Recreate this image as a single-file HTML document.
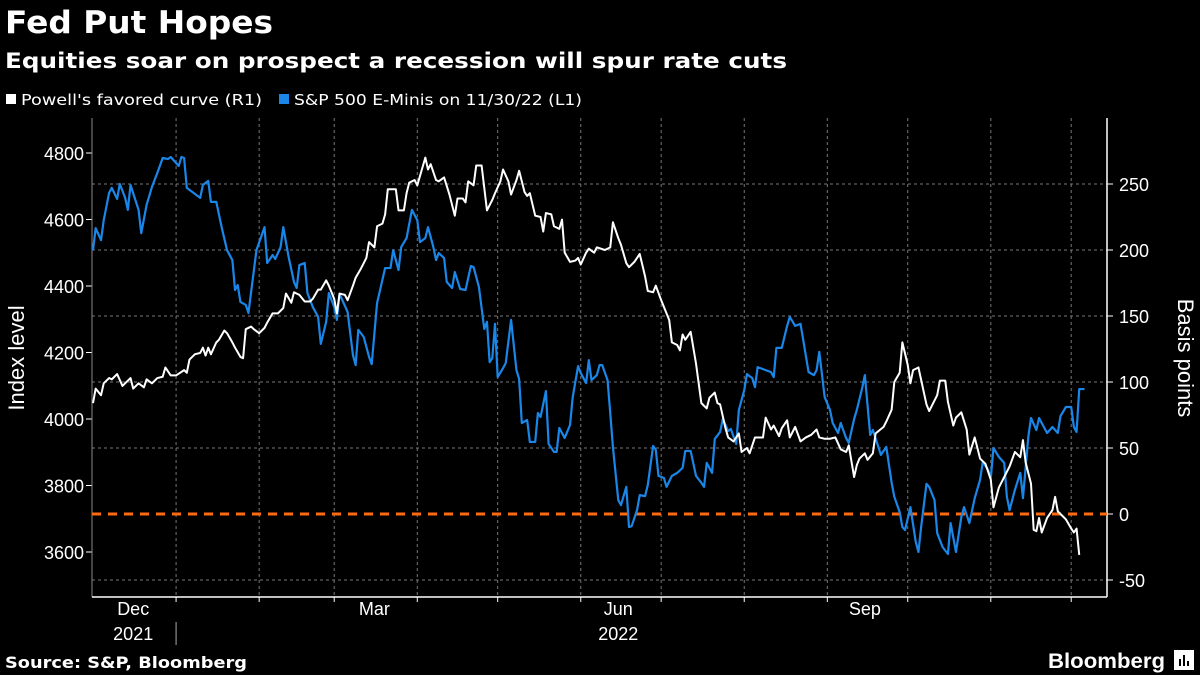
<!DOCTYPE html>
<html><head><meta charset="utf-8">
<style>
body{margin:0;background:#000;width:1200px;height:675px;overflow:hidden;font-family:"Liberation Sans",sans-serif;color:#fff}
svg{position:absolute;left:0;top:0}
</style></head>
<body>
<svg width="1200" height="675" viewBox="0 0 1200 675">
<g id="static">
<text x="5" y="33" font-size="31" font-weight="bold" fill="#fff" font-family="DejaVu Sans, sans-serif" textLength="268" lengthAdjust="spacingAndGlyphs">Fed Put Hopes</text>
<text x="5" y="68" font-size="21" font-weight="bold" fill="#fff" font-family="DejaVu Sans, sans-serif" textLength="782" lengthAdjust="spacingAndGlyphs">Equities soar on prospect a recession will spur rate cuts</text>
<g><rect x="6" y="94" width="10" height="10" fill="#fff"/><text x="21" y="105" font-size="15" fill="#fff" font-family="DejaVu Sans, sans-serif" textLength="241" lengthAdjust="spacingAndGlyphs">Powell's favored curve (R1)</text></g>
<g><rect x="279" y="94" width="10" height="10" fill="#1a86e8"/><text x="294" y="105" font-size="15" fill="#fff" font-family="DejaVu Sans, sans-serif" textLength="288" lengthAdjust="spacingAndGlyphs">S&amp;P 500 E-Minis on 11/30/22 (L1)</text></g>
<text transform="translate(24,358) rotate(-90)" font-size="22" text-anchor="middle" fill="#fff">Index level</text>
<text transform="translate(1178,358) rotate(90)" font-size="22" text-anchor="middle" fill="#fff">Basis points</text>
<text x="5" y="668" font-size="16" font-weight="bold" fill="#fff" font-family="DejaVu Sans, sans-serif" textLength="242" lengthAdjust="spacingAndGlyphs">Source: S&amp;P, Bloomberg</text>
<text x="1048" y="668" font-size="21" font-weight="bold" fill="#fff" textLength="117" lengthAdjust="spacingAndGlyphs">Bloomberg</text>
<g><rect x="1174" y="650" width="20" height="20" fill="#fff"/><rect x="1179" y="659" width="2" height="7" fill="#000"/><rect x="1183" y="655" width="2" height="11" fill="#000"/><rect x="1187" y="661" width="2" height="5" fill="#000"/></g>
</g>
<g id="grid"></g>
<g id="axes"></g>
<g id="series"></g>
</svg>
<script>
const leftTicks=[3600,3800,4000,4200,4400,4600,4800];
const rightTicks=[-50,0,50,100,150,200,250];
const monthDays=[31,62,90,121,151,182,212,243,274,304,335,365];
const monthLabels=["Dec","Mar","Jun","Sep"];
const monthLabelDays=[15,105,196,288];
const yearLabels=["2021","2022"];
const yearLabelDays=[15,196];
const spDays=[0,1,3,4,6,7,9,10,12,13,14,17,18,20,22,24,26,28,29,32,33,34,35,37,40,41,43,44,46,48,50,52,53,54,55,57,58,61,64,65,67,68,70,71,73,75,76,77,79,80,82,84,85,87,88,90,91,92,93,95,97,98,99,101,103,104,106,109,111,112,114,115,117,119,121,122,124,125,127,128,129,131,132,134,135,137,139,141,142,144,146,147,148,149,150,151,153,154,156,158,159,160,162,163,165,166,167,169,170,172,173,174,176,178,179,181,182,184,185,186,188,189,190,192,193,194,196,197,199,200,201,203,204,206,207,209,210,211,213,214,216,218,220,221,223,225,227,228,229,231,232,234,235,237,238,240,241,243,244,246,247,248,251,253,254,255,257,259,260,262,264,265,267,269,270,271,273,275,276,278,279,281,282,284,285,287,288,290,291,294,296,298,299,301,302,303,305,307,308,309,311,312,314,315,317,319,320,322,324,325,327,329,331,332,334,335,336,338,340,341,342,344,346,347,349,350,352,353,355,356,358,360,361,363,365,366,367,368,370];
const spValues=[4508,4574,4538,4598,4680,4695,4662,4707,4665,4629,4704,4629,4559,4644,4698,4740,4785,4782,4788,4761,4788,4785,4695,4683,4665,4704,4716,4653,4653,4577,4508,4478,4388,4403,4352,4343,4319,4508,4577,4469,4493,4481,4517,4577,4487,4412,4394,4463,4469,4379,4337,4307,4226,4292,4379,4337,4298,4376,4358,4322,4192,4162,4268,4247,4187,4165,4349,4454,4454,4508,4448,4517,4544,4629,4598,4532,4544,4577,4517,4478,4499,4484,4412,4394,4442,4391,4388,4460,4457,4397,4271,4292,4171,4183,4286,4126,4153,4168,4298,4147,4120,3988,3997,3931,3931,4018,4006,4084,3925,3901,3901,3973,3943,3982,4066,4159,4138,4108,4177,4117,4132,4162,4162,4117,4018,3916,3756,3741,3796,3675,3678,3726,3771,3768,3801,3919,3907,3829,3823,3796,3829,3838,3853,3904,3904,3829,3808,3796,3868,3838,3940,3961,4000,3964,3970,3925,4027,4087,4135,4123,4096,4156,4147,4141,4126,4214,4214,4280,4307,4280,4286,4238,4141,4132,4147,4202,4066,4027,3988,3958,3988,3943,3928,4000,4027,4093,4132,3952,3967,3892,3916,3808,3766,3720,3675,3666,3735,3630,3600,3675,3805,3796,3756,3657,3615,3594,3687,3600,3705,3735,3687,3762,3817,3871,3847,3823,3913,3886,3868,3766,3726,3787,3838,3762,3946,4003,3967,4003,3973,3958,3976,3958,4009,4036,4036,3976,3961,4090,4090];
const curveDays=[0,1,3,4,6,7,9,11,14,15,17,19,20,22,24,26,27,29,31,34,35,36,38,40,41,42,43,44,46,47,49,50,52,53,55,56,57,59,60,62,64,65,67,69,71,72,74,75,77,79,81,82,84,85,87,88,90,91,92,94,95,97,98,100,102,103,105,106,108,109,110,113,114,116,117,118,120,121,124,125,126,128,129,131,133,135,136,138,139,140,142,143,145,147,149,150,152,153,155,156,158,159,161,162,163,165,167,168,169,171,172,174,175,176,178,180,181,182,184,185,187,188,191,193,194,196,197,199,200,202,204,206,207,209,210,212,214,215,216,218,219,220,221,223,225,227,229,230,232,233,234,236,237,239,241,242,244,245,247,249,250,251,253,254,256,257,259,260,262,264,266,268,270,271,273,275,277,279,281,282,284,285,286,288,289,291,292,295,296,298,299,301,302,304,305,306,308,311,312,315,316,318,319,321,322,324,326,327,329,331,333,335,336,338,340,342,344,346,347,348,350,351,352,353,354,356,358,359,360,362,363,365,366,367,368];
const curveValues=[84,95,90,99,103,102,106,97,103,95,99,96,102,99,103,104,111,105,105,109,107,117,121,122,126,120,126,121,130,132,139,137,130,126,119,118,140,142,140,137,141,145,152,152,156,167,160,168,166,161,161,163,170,170,177,173,163,152,167,166,162,173,179,186,194,206,202,218,220,227,246,246,230,230,243,251,253,249,270,261,265,253,252,255,242,226,239,239,236,252,249,264,264,230,238,243,252,261,252,242,253,260,244,241,243,226,225,214,228,227,218,216,223,198,191,192,194,189,198,201,198,202,200,202,221,209,204,190,187,191,197,180,169,168,173,162,152,147,130,128,124,136,132,138,114,84,80,88,92,84,83,65,58,55,61,47,50,46,58,58,58,73,64,67,59,65,71,58,66,55,58,60,64,58,57,57,58,49,47,52,28,37,42,46,41,46,61,66,70,79,100,107,130,113,99,109,111,83,78,90,101,101,85,67,73,77,64,45,58,42,38,26,5,20,28,36,47,43,56,39,23,-12,-13,-3,-14,-3,3,13,2,-2,-4,-11,-14,-11,-31];

const X0=93,XPD=2.68,PL=92,PR=1107,PT=118,PB=597;
const xScale=d=>X0+d*XPD;
const yLeft=v=>153+(4800-v)*0.3325;
const yRight=v=>514-v*1.32;
const NS="http://www.w3.org/2000/svg";
function mk(tag,attrs,parent){const e=document.createElementNS(NS,tag);for(const k in attrs)e.setAttribute(k,attrs[k]);parent.appendChild(e);return e;}
const grid=document.getElementById('grid'),axes=document.getElementById('axes'),series=document.getElementById('series');

rightTicks.forEach(v=>{
  if(v!==0){const l=mk('line',{x1:PL,x2:PR,y1:yRight(v),y2:yRight(v),stroke:'#777','stroke-width':1,'stroke-dasharray':'3,3'},grid);
  
  }
  const t=mk('text',{x:1119,y:yRight(v)+7,'font-size':18,fill:'#fff'},axes);t.textContent=v;
  
  
  mk('line',{x1:PR,x2:PR+6,y1:yRight(v),y2:yRight(v),stroke:'#fff'},axes);
});
monthDays.forEach(d=>{
  const l=mk('line',{x1:xScale(d),x2:xScale(d),y1:PT,y2:PB,stroke:'#777','stroke-width':1,'stroke-dasharray':'3,3'},grid);
  
  
  mk('line',{x1:xScale(d),x2:xScale(d),y1:PB,y2:PB+5,stroke:'#fff'},axes);
});
leftTicks.forEach(v=>{
  const t=mk('text',{x:84,y:yLeft(v)+7,'font-size':18,fill:'#fff','text-anchor':'end'},axes);t.textContent=v;
  
  
  mk('line',{x1:PL-6,x2:PL,y1:yLeft(v),y2:yLeft(v),stroke:'#fff'},axes);
});
mk('line',{x1:PL,x2:PL,y1:PT,y2:PB,stroke:'#888'},axes);
mk('line',{x1:PR,x2:PR,y1:PT,y2:PB,stroke:'#fff','stroke-width':1.5},axes);
mk('line',{x1:PL,x2:PR,y1:PB,y2:PB,stroke:'#fff','stroke-width':1.5},axes);
monthLabels.forEach((m,i)=>{const t=mk('text',{x:xScale(monthLabelDays[i]),y:615,'font-size':18,fill:'#fff','text-anchor':'middle'},axes);t.textContent=m;
  
  });
yearLabels.forEach((m,i)=>{const t=mk('text',{x:xScale(yearLabelDays[i]),y:640,'font-size':18,fill:'#fff','text-anchor':'middle'},axes);t.textContent=m;
  
  });
mk('line',{x1:xScale(31),x2:xScale(31),y1:622,y2:645,stroke:'#aaa'},axes);

const zl=mk('line',{x1:PL,x2:PR,y1:yRight(0),y2:yRight(0),stroke:'#ff6a10','stroke-width':3,'stroke-dasharray':'9,7'},series);


const sp=mk('polyline',{points:spValues.map((v,i)=>xScale(spDays[i])+','+yLeft(v)).join(' '),fill:'none',stroke:'#1a86e8','stroke-width':2.2,'stroke-linejoin':'round'},series);


const cv=mk('polyline',{points:curveValues.map((v,i)=>xScale(curveDays[i])+','+yRight(v)).join(' '),fill:'none',stroke:'#fff','stroke-width':2,'stroke-linejoin':'round'},series);


</script>
</body></html>
